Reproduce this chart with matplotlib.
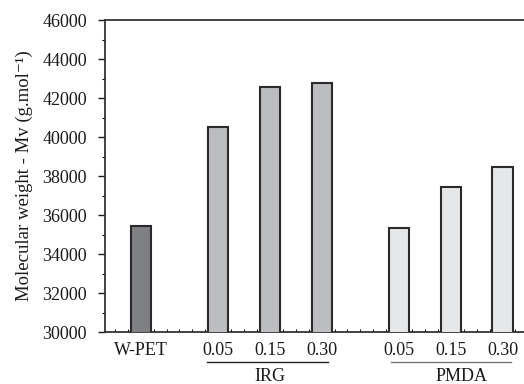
import matplotlib
matplotlib.use("Agg")
import matplotlib.pyplot as plt
from matplotlib.ticker import MultipleLocator
from matplotlib.transforms import blended_transform_factory

plt.rcParams['font.family'] = ['Liberation Serif', 'DejaVu Serif']

tick_labels = ["W-PET", "0.05", "0.15", "0.30", "0.05", "0.15", "0.30"]
positions = [0, 1.5, 2.5, 3.5, 5, 6, 7]
mv = [35450, 40500, 42550, 42780, 35350, 37450, 38460]
colors = ["#7f8084", "#bcbdc1", "#bcbdc1", "#bcbdc1", "#e6e7e9", "#e6e7e9", "#e6e7e9"]
groups = ["IRG", "PMDA"]

fig = plt.figure(figsize=(5.24, 3.84), dpi=100, facecolor="white")
ax = fig.add_axes([0.2004, 0.1354, 0.7996, 0.8125])

ax.bar(positions, mv, width=0.39, color=colors, edgecolor="#2a2a2a", linewidth=1.5, zorder=3)

ax.set_ylim(30000, 46000)
ax.set_xlim(-0.69, 7.415)
ax.yaxis.set_major_locator(MultipleLocator(2000))
ax.yaxis.set_minor_locator(MultipleLocator(1000))
ax.xaxis.set_minor_locator(MultipleLocator(0.25))
ax.set_xticks(positions)
ax.set_xticklabels(tick_labels)
ax.tick_params(axis="y", which="major", direction="out", length=5, width=1, labelsize=13, pad=8, colors="#1a1a1a")
ax.tick_params(axis="y", which="minor", direction="out", length=2.5, width=0.8)
ax.tick_params(axis="x", which="major", length=0, labelsize=13, pad=7, colors="#1a1a1a")
ax.tick_params(axis="x", which="minor", direction="in", length=2.5, width=0.7)

for side in ["left", "top", "bottom"]:
    ax.spines[side].set_color("#333333")
    ax.spines[side].set_linewidth(1.3)
ax.spines["right"].set_visible(False)

ax.set_ylabel("Molecular weight - Mv (g.mol\u207b\u00b9)", fontsize=13.5, color="#1a1a1a", labelpad=7)

# group brackets below the tick labels
trans = blended_transform_factory(ax.transData, ax.transAxes)
ax.plot([1.28, 3.62], [-0.095, -0.095], transform=trans, color="#222222", lw=1, clip_on=False)
ax.plot([4.84, 7.16], [-0.095, -0.095], transform=trans, color="#777777", lw=1, clip_on=False)
ax.text(2.5, -0.114, groups[0], transform=trans, ha="center", va="top", fontsize=13, color="#1a1a1a")
ax.text(6.2, -0.114, groups[1], transform=trans, ha="center", va="top", fontsize=13, color="#1a1a1a")

fig.savefig("out.png", dpi=100)
